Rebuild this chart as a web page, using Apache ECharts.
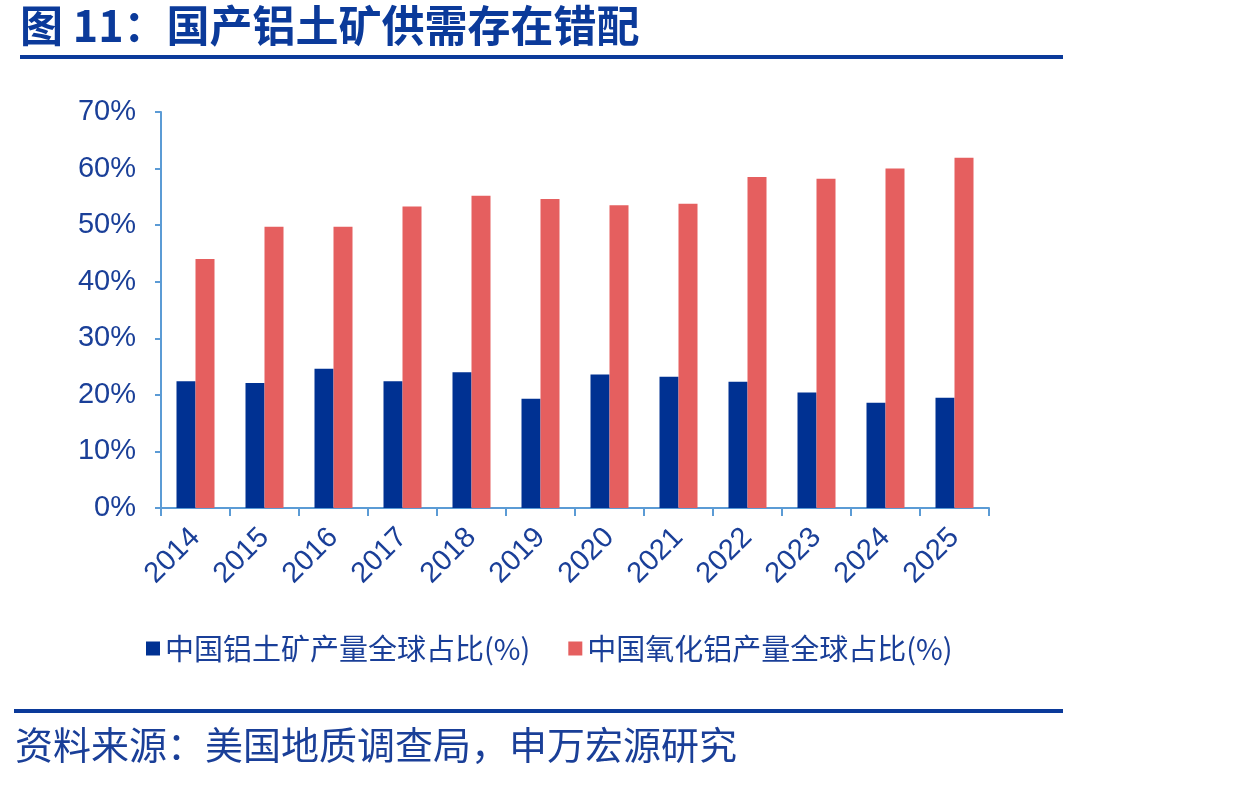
<!DOCTYPE html>
<html>
  <head>
      <meta charset="utf-8">
      <script src="https://cdn.jsdelivr.net/npm/echarts@6/dist/echarts.min.js"></script>
      <style>body{margin:0;background:#fff;}</style>
  </head>
  <body>
    <div id="main" style="width: 1234px;height:787px;"></div>
    <script type="text/javascript">
        // data
        var years = ['2014','2015','2016','2017','2018','2019','2020','2021','2022','2023','2024','2025'];
        var bauxiteShare = [22.4, 22.1, 24.6, 22.4, 24.0, 19.3, 23.6, 23.2, 22.3, 20.4, 18.6, 19.5];
        var aluminaShare = [44.0, 49.7, 49.7, 53.3, 55.2, 54.6, 53.5, 53.8, 58.5, 58.2, 60.0, 61.9];
        var seriesNames = ['中国铝土矿产量全球占比(%)', '中国氧化铝产量全球占比(%)'];

        var myChart = echarts.init(document.getElementById('main'));
        var textBlue = '#1a3f98';
        var axisBlue = '#5b9bd5';
        var numFont = '"Liberation Sans", Arial, sans-serif';
        var cjkFont = '"Noto Sans CJK SC", sans-serif';

        var option = {
            backgroundColor: '#fff',
            animation: false,
            graphic: [
                {type: 'text', left: 20, top: 4, style: {
                    text: '图 11：国产铝土矿供需存在错配', fill: '#0b3a9a',
                    font: 'bold 43px ' + cjkFont}},
                {type: 'rect', shape: {x: 20, y: 55, width: 1043, height: 4}, style: {fill: '#0b3a9a'}},
                {type: 'rect', shape: {x: 14, y: 709, width: 1049, height: 4}, style: {fill: '#0b3a9a'}},
                {type: 'text', left: 15, top: 726, style: {
                    text: '资料来源：美国地质调查局，申万宏源研究', fill: textBlue,
                    font: '38px ' + cjkFont}}
            ],
            legend: {
                left: 141,
                top: 629,
                icon: 'rect',
                itemWidth: 14,
                itemHeight: 14,
                itemGap: 38,
                textStyle: {color: textBlue, fontSize: 29, fontFamily: cjkFont},
                data: seriesNames
            },
            grid: {
                left: 161,
                right: 245,
                top: 112,
                bottom: 279
            },
            xAxis: {
                type: 'category',
                data: years,
                axisLine: {lineStyle: {color: axisBlue, width: 2}},
                axisTick: {show: true, length: 8, lineStyle: {color: axisBlue, width: 2}},
                axisLabel: {rotate: 45, color: textBlue, fontSize: 29, fontFamily: numFont, margin: 25}
            },
            yAxis: {
                type: 'value',
                min: 0,
                max: 70,
                interval: 10,
                axisLine: {show: true, lineStyle: {color: axisBlue, width: 2}},
                axisTick: {show: true, length: 6, lineStyle: {color: axisBlue, width: 2}},
                splitLine: {show: false},
                axisLabel: {formatter: '{value}%', color: textBlue, fontSize: 29, fontFamily: numFont, margin: 25}
            },
            series: [
                {
                    name: seriesNames[0],
                    type: 'bar',
                    data: bauxiteShare,
                    barWidth: 19,
                    barGap: '0%',
                    itemStyle: {color: '#003192'}
                },
                {
                    name: seriesNames[1],
                    type: 'bar',
                    data: aluminaShare,
                    barWidth: 19,
                    barGap: '0%',
                    itemStyle: {color: '#e55f5f'}
                }
            ]
        };
        myChart.setOption(option);
      </script>
  </body>
</html>
